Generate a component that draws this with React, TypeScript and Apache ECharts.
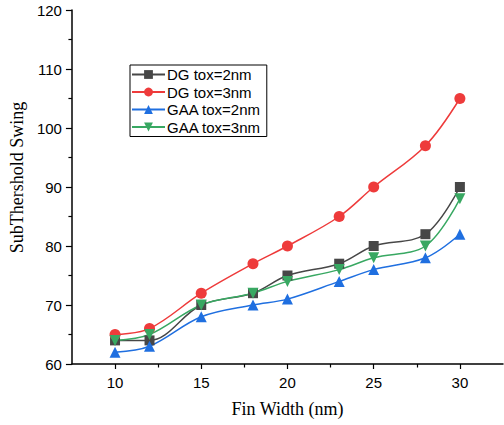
import React, { useEffect, useRef } from "react";
import * as echarts from "echarts";

const finWidth = [10, 12, 15, 18, 20, 23, 25, 28, 30];
const dgTox2 = [64, 64, 70, 72, 75, 77, 80, 82, 90];
const dgTox3 = [65, 66, 72, 77, 80, 85, 90, 97, 105];
const gaaTox2 = [62, 63, 68, 70, 71, 74, 76, 78, 82];
const gaaTox3 = [64, 65, 70, 72, 74, 76, 78, 80, 88];

const majorXTicks = [10, 15, 20, 25, 30];
const minorXTicks = [12.5, 17.5, 22.5, 27.5];

const seriesDefs = [
  { name: "DG tox=2nm", values: dgTox2, color: "#474747", symbol: "rect", size: 10 },
  { name: "DG tox=3nm", values: dgTox3, color: "#ee3b3b", symbol: "circle", size: 11 },
  { name: "GAA tox=2nm", values: gaaTox2, color: "#1f6fe0", symbol: "triangle", size: 11 },
  { name: "GAA tox=3nm", values: gaaTox3, color: "#38a862", symbol: "path://M0,0 L10,0 L5,9 Z", size: 11 },
];

export default function App() {
  const ref = useRef<HTMLDivElement>(null);

  useEffect(() => {
    if (!ref.current) return;
    const chart = echarts.init(ref.current, null, { renderer: "svg" });
    const serif = "Liberation Serif, Times New Roman, serif";
    const sans = "Liberation Sans, Arial, sans-serif";
    chart.setOption({
      animation: false,
      backgroundColor: "#ffffff",
      grid: { left: 71, right: 1, top: 10, bottom: 61, containLabel: false },
      legend: {
        orient: "vertical",
        left: 130,
        top: 65,
        data: seriesDefs.map((s) => s.name),
        itemWidth: 33,
        itemHeight: 11,
        itemGap: 2.5,
        padding: [2, 6, 2, 1],
        borderColor: "#000",
        borderWidth: 1,
        textStyle: { fontFamily: sans, fontSize: 15, color: "#000", padding: [0, 0, 0, -3] },
      },
      xAxis: [
        {
          type: "value",
          min: 7.5,
          max: 32.5,
          name: "Fin Width (nm)",
          nameLocation: "middle",
          nameGap: 36,
          nameTextStyle: { fontFamily: serif, fontSize: 18, color: "#000" },
          axisLine: { show: true, lineStyle: { color: "#000", width: 1.5 } },
          axisTick: { show: true, customValues: majorXTicks, length: 5, lineStyle: { color: "#000", width: 1.2 } },
          axisLabel: { customValues: majorXTicks, fontFamily: sans, fontSize: 15, color: "#000", margin: 11 },
          splitLine: { show: false },
        },
        {
          type: "value",
          min: 7.5,
          max: 32.5,
          position: "bottom",
          axisLine: { show: false },
          axisTick: { show: true, customValues: minorXTicks, length: 3.5, lineStyle: { color: "#000", width: 1.2 } },
          axisLabel: { show: false },
          splitLine: { show: false },
        },
      ],
      yAxis: {
        type: "value",
        min: 60,
        max: 120,
        interval: 10,
        name: "SubThershold Swing",
        nameLocation: "middle",
        nameGap: 38,
        nameTextStyle: { fontFamily: serif, fontSize: 18, color: "#000", padding: [0, 0, 0, 19] },
        axisLine: { show: true, lineStyle: { color: "#000", width: 1.5 } },
        axisTick: { show: true, length: 6, lineStyle: { color: "#000", width: 1.2 } },
        minorTick: { show: true, splitNumber: 2, length: 3.5, lineStyle: { color: "#000", width: 1.2 } },
        axisLabel: { fontFamily: sans, fontSize: 15, color: "#000", margin: 10 },
        splitLine: { show: false },
        minorSplitLine: { show: false },
      },
      series: seriesDefs.map((s) => ({
        name: s.name,
        type: "line",
        xAxisIndex: 0,
        data: finWidth.map((x, i) => [x, s.values[i]]),
        smooth: 0.35,
        symbol: s.symbol,
        symbolSize: s.size,
        showSymbol: true,
        lineStyle: { color: s.color, width: 1.5 },
        itemStyle: { color: s.color },
        z: 3,
      })),
    });
    return () => chart.dispose();
  }, []);

  return (
    <div
      ref={ref}
      style={{ position: "absolute", left: 0, top: 0, width: 504, height: 425 }}
    />
  );
}
